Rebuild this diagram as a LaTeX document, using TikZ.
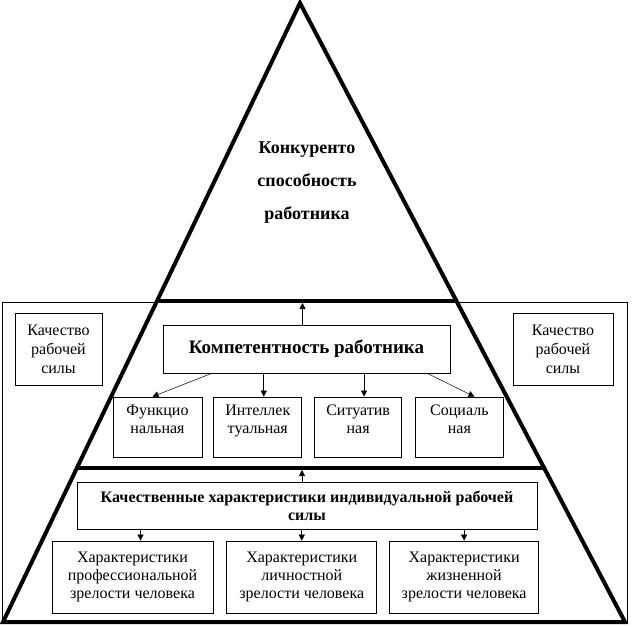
\documentclass[tikz,border=0pt]{standalone}
\usepackage{fontspec}
\setmainfont{Liberation Serif}
\usetikzlibrary{arrows.meta,positioning}

\begin{document}
\begin{tikzpicture}[
    x=1pt, y=-1pt,
    font=\fontsize{16}{18}\selectfont,
    node distance=11pt and 11pt,
    box/.style={draw, line width=0.8pt, align=center, inner sep=2pt},
    sbox/.style={box, minimum height=60pt, text depth=15pt},
    bbox/.style={box, font=\bfseries\fontsize{16}{18}\selectfont},
    line/.style={-{Triangle[length=6pt,width=6pt]}, line width=0.7pt},
    thin line/.style={-{Triangle[length=6pt,width=6pt]}, line width=0.5pt},
    thick/.style={line width=4pt}
]
    \useasboundingbox (0,0) rectangle (638,627);

    % outer frame and pyramid
    \draw[line width=0.8pt] (2,302) rectangle (627,622);
    \draw[thick, fill=white, line join=miter] (300,3) -- (625,622) -- (3,622) -- cycle;
    \draw[thick] (159,301) -- (457,301);
    \draw[thick] (77,468) -- (546,468);
    \coordinate (upper) at (0,303);
    \coordinate (lower) at (0,470);

    % top level
    \node[font=\bfseries\fontsize{18}{33}\selectfont, align=center] (title) at (307,183)
        {Конкуренто\\способность\\работника};

    % middle level
    \node[box, minimum width=287pt, minimum height=48pt, font=\bfseries\fontsize{19}{18}\selectfont]
        (comp) at (306.5,349) {Компетентность работника};
    \node[sbox, minimum width=89pt] (func) at (157.5,427) {Функцио\\нальная};
    \node[sbox, minimum width=88pt, right=of func] (intel) {Интеллек\\туальная};
    \node[sbox, minimum width=87pt, right=12pt of intel] (situ) {Ситуатив\\ная};
    \node[sbox, minimum width=88pt, right=13pt of situ] (soc) {Социаль\\ная};

    % side boxes
    \node[box, minimum width=87pt, minimum height=72pt, font=\fontsize{16}{19}\selectfont]
        (qleft) at (58.5,349) {Качество\\рабочей\\силы};
    \node[box, minimum width=100pt, minimum height=72pt, font=\fontsize{16}{19}\selectfont]
        (qright) at (563,349) {Качество\\рабочей\\силы};

    % bottom level
    \node[bbox, minimum width=460pt, minimum height=47pt] (qual) at (307,505.5)
        {Качественные характеристики индивидуальной рабочей\\силы};
    \node[box, minimum width=161pt, minimum height=72pt] (prof) at (132.5,577)
        {Характеристики\\профессиональной\\зрелости человека};
    \node[box, minimum width=150pt, minimum height=72pt, right=13pt of prof] (pers)
        {Характеристики\\личностной\\зрелости человека};
    \node[box, minimum width=149pt, minimum height=72pt, right=12pt of pers] (life)
        {Характеристики\\жизненной\\зрелости человека};

    % arrows
    \draw[line] ([xshift=-4pt]comp.north) -- ([xshift=-4pt]comp.north |- upper);
    \draw[thin line] ([xshift=49pt]comp.south west) -- ([xshift=-5pt]func.north);
    \draw[line] ([xshift=6pt]intel.north |- comp.south) -- ([xshift=6pt]intel.north);
    \draw[line] ([xshift=6pt]situ.north |- comp.south) -- ([xshift=6pt]situ.north);
    \draw[thin line] ([xshift=-23pt]comp.south east) -- ([xshift=15pt]soc.north);

    \draw[line] ([xshift=-5pt]qual.north) -- ([xshift=-5pt]qual.north |- lower);
    \draw[line] ([xshift=8pt]prof.north |- qual.south) -- ([xshift=8pt]prof.north);
    \draw[line] (pers.north |- qual.south) -- (pers.north);
    \draw[line] (life.north |- qual.south) -- (life.north);
\end{tikzpicture}
\end{document}
